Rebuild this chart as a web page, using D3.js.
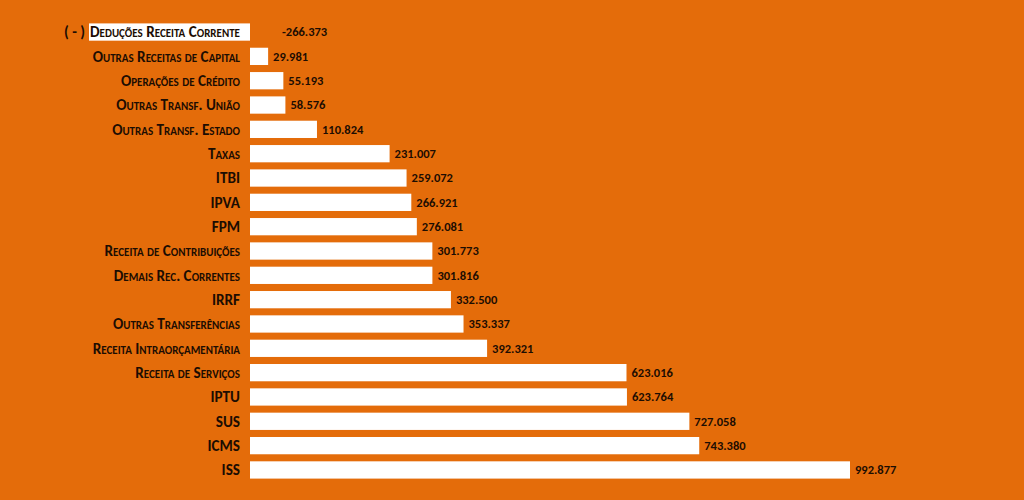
<!DOCTYPE html>
<html>
<head>
<meta charset="utf-8" />
<style>
  html, body { margin: 0; padding: 0; background: #E46C0A; }
  svg { display: block; }
  text { font-family: Carlito, Lato, "Open Sans", sans-serif; font-weight: bold; fill: #1c0d02; }
  .cat { font-size: 15.2px; font-variant: small-caps; }
  .val { font-size: 12.5px; }
</style>
</head>
<body>
<svg width="1024" height="500"></svg>
<script src="https://d3js.org/d3.v7.min.js"></script>
<script>
// categories from top to bottom
var categories = [
  "Deduções Receita Corrente",
  "Outras Receitas de Capital",
  "Operações de Crédito",
  "Outras Transf. União",
  "Outras Transf. Estado",
  "Taxas",
  "ITBI",
  "IPVA",
  "FPM",
  "Receita de Contribuições",
  "Demais Rec. Correntes",
  "IRRF",
  "Outras Transferências",
  "Receita Intraorçamentária",
  "Receita de Serviços",
  "IPTU",
  "SUS",
  "ICMS",
  "ISS"
];
var values = [
  -266373, 29981, 55193, 58576, 110824, 231007, 259072, 266921, 276081,
  301773, 301816, 332500, 353337, 392321, 623016, 623764, 727058, 743380, 992877
];

var svg = d3.select("svg");

var br = d3.formatLocale({decimal: ",", thousands: ".", grouping: [3], currency: ["R$", ""], minus: "-"});
var fmt = br.format(",d");

var x = d3.scaleLinear()
    .domain([0, d3.max(values)])
    .range([250, 850]);

var y = d3.scaleBand()
    .domain(categories)
    .range([20, 482])
    .paddingInner(0.29)
    .paddingOuter(0.14);

var rows = svg.append("g").selectAll("g")
    .data(categories)
    .enter().append("g");

rows.append("rect")
    .attr("x", function (d, i) { return x(Math.min(0, values[i])); })
    .attr("y", function (d) { return y(d); })
    .attr("width", function (d, i) { return Math.abs(x(values[i]) - x(0)); })
    .attr("height", y.bandwidth())
    .attr("fill", "#ffffff");

rows.append("text")
    .attr("class", "cat")
    .attr("x", 240)
    .attr("y", function (d) { return y(d) + y.bandwidth() / 2; })
    .attr("dy", "0.35em")
    .attr("text-anchor", "end")
    .text(function (d) { return d; });

// prefix for the negative row, sits left of the white bar
svg.append("text")
    .attr("class", "cat")
    .attr("x", 85)
    .attr("y", y(categories[0]) + y.bandwidth() / 2)
    .attr("dy", "0.35em")
    .attr("text-anchor", "end")
    .text("( - )");

rows.append("text")
    .attr("class", "val")
    .attr("x", function (d, i) { return values[i] < 0 ? x(0) + 32 : x(values[i]) + 5; })
    .attr("y", function (d) { return y(d) + y.bandwidth() / 2; })
    .attr("dy", "0.35em")
    .text(function (d, i) { return fmt(values[i]); });
</script>
</body>
</html>
